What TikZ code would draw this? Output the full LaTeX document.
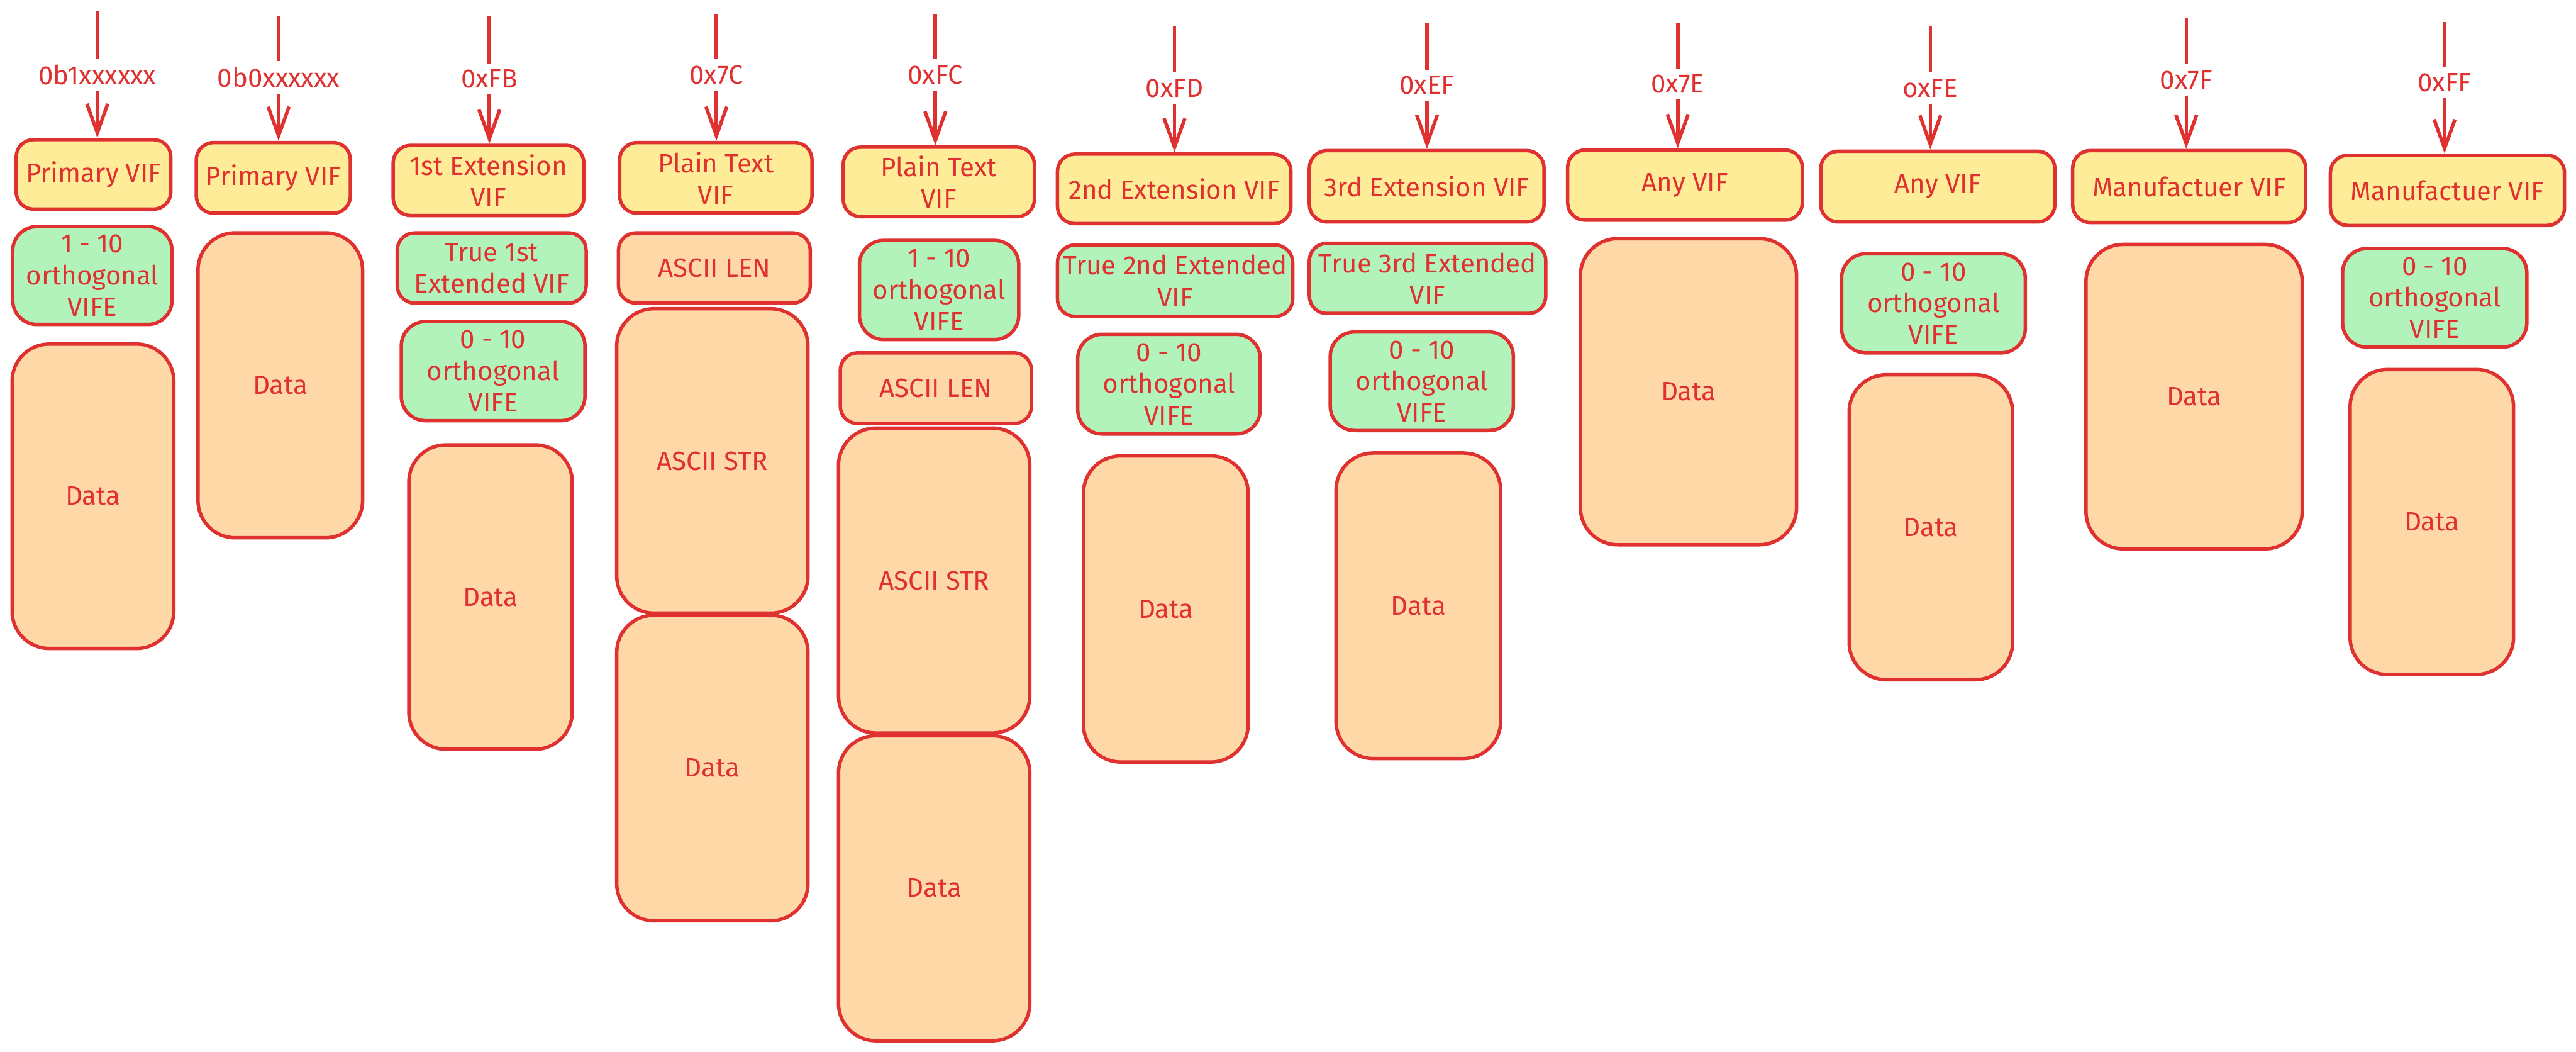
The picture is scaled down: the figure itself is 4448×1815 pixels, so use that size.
\documentclass[tikz,border=0pt]{standalone}
\usepackage{fontspec}
\setmainfont{Fira Sans}
\usetikzlibrary{arrows.meta}
\definecolor{exred}{HTML}{E03131}
\definecolor{exyellow}{HTML}{FFEC99}
\definecolor{exgreen}{HTML}{B2F2BB}
\definecolor{exorange}{HTML}{FFD8A8}

\begin{document}
\begin{tikzpicture}[x=0.01cm,y=-0.01cm]
   \tikzstyle{box}=[draw=exred,line width=1.7pt,text=exred,align=center,inner sep=0pt,font=\fontsize{13}{15.5}\selectfont]
   \tikzstyle{vif}=[box,fill=exyellow,rounded corners=3mm]
   \tikzstyle{ext}=[box,fill=exgreen,rounded corners=3mm]
   \tikzstyle{orth}=[box,fill=exgreen,rounded corners=4.2mm]
   \tikzstyle{len}=[box,fill=exorange,rounded corners=3mm]
   \tikzstyle{dat}=[box,fill=exorange,rounded corners=6.4mm]
   \tikzstyle{lbl}=[text=exred,inner sep=1mm,font=\fontsize{13}{15.5}\selectfont]
   \tikzstyle{ln}=[exred,line width=1.7pt]
   \tikzstyle{ar}=[ln,-{Straight Barb[length=5mm,width=3.6mm]}]

   \useasboundingbox (0,0) rectangle (4448,1815);

   % 0b1xxxxxx
   \coordinate (t1) at (168,20);
   \node (l1) [lbl] at (168,129) {0b1xxxxxx};
   \node (vif1) [vif,minimum width=2.67cm,minimum height=1.2cm] at (161.5,301) {Primary VIF};
   \node (orth1) [orth,minimum width=2.75cm,minimum height=1.69cm] at (159.5,475.5) {1 - 10\\orthogonal\\VIFE};
   \node (dat1) [dat,minimum width=2.79cm,minimum height=5.25cm] at (160.5,856.5) {Data};

   % 0b0xxxxxx
   \coordinate (t2) at (481,28);
   \node (l2) [lbl] at (481,134) {0b0xxxxxx};
   \node (vif2) [vif,minimum width=2.66cm,minimum height=1.22cm] at (472,307) {Primary VIF};
   \node (dat2) [dat,minimum width=2.84cm,minimum height=5.26cm] at (484,665) {Data};

   % 0xFB
   \coordinate (t3) at (845,28);
   \node (l3) [lbl] at (845,136) {0xFB};
   \node (vif3) [vif,minimum width=3.29cm,minimum height=1.21cm] at (843.5,311.5) {1st Extension\\VIF};
   \node (ext3) [ext,minimum width=3.26cm,minimum height=1.21cm] at (849,462.5) {True 1st\\Extended VIF};
   \node (orth3) [orth,minimum width=3.17cm,minimum height=1.71cm] at (851.5,640.5) {0 - 10\\orthogonal\\VIFE};
   \node (dat3) [dat,minimum width=2.82cm,minimum height=5.25cm] at (847,1030.5) {Data};

   % 0x7C
   \coordinate (t4) at (1237,25);
   \node (l4) [lbl] at (1237,129) {0x7C};
   \node (vif4) [vif,minimum width=3.32cm,minimum height=1.22cm] at (1236,307) {Plain Text\\VIF};
   \node (len4) [len,minimum width=3.31cm,minimum height=1.21cm] at (1233.5,462.5) {ASCII LEN};
   \node (str4) [dat,minimum width=3.3cm,minimum height=5.25cm] at (1230,795.5) {ASCII STR};
   \node (dat4) [dat,minimum width=3.3cm,minimum height=5.27cm] at (1230,1325.5) {Data};

   % 0xFC
   \coordinate (t5) at (1615,25);
   \node (l5) [lbl] at (1615,129) {0xFC};
   \node (vif5) [vif,minimum width=3.3cm,minimum height=1.2cm] at (1621,314) {Plain Text\\VIF};
   \node (orth5) [orth,minimum width=2.75cm,minimum height=1.71cm] at (1621.5,500.5) {1 - 10\\orthogonal\\VIFE};
   \node (len5) [len,minimum width=3.3cm,minimum height=1.22cm] at (1616,670) {ASCII LEN};
   \node (str5) [dat,minimum width=3.3cm,minimum height=5.26cm] at (1613,1002) {ASCII STR};
   \node (dat5) [dat,minimum width=3.3cm,minimum height=5.26cm] at (1613,1533) {Data};

   % 0xFD
   \coordinate (t6) at (2028,45);
   \node (l6) [lbl] at (2028,152) {0xFD};
   \node (vif6) [vif,minimum width=4.03cm,minimum height=1.2cm] at (2027.5,326) {2nd Extension VIF};
   \node (ext6) [ext,minimum width=4.06cm,minimum height=1.23cm] at (2029,484.5) {True 2nd Extended\\VIF};
   \node (orth6) [orth,minimum width=3.15cm,minimum height=1.72cm] at (2018.5,663) {0 - 10\\orthogonal\\VIFE};
   \node (dat6) [dat,minimum width=2.84cm,minimum height=5.28cm] at (2013,1051) {Data};

   % 0xEF
   \coordinate (t7) at (2464,39);
   \node (l7) [lbl] at (2464,147) {0xEF};
   \node (vif7) [vif,minimum width=4.05cm,minimum height=1.23cm] at (2463.5,321.5) {3rd Extension VIF};
   \node (ext7) [ext,minimum width=4.08cm,minimum height=1.21cm] at (2465,480.5) {True 3rd Extended\\VIF};
   \node (orth7) [orth,minimum width=3.16cm,minimum height=1.7cm] at (2455,658) {0 - 10\\orthogonal\\VIFE};
   \node (dat7) [dat,minimum width=2.84cm,minimum height=5.27cm] at (2449,1045.5) {Data};

   % 0x7E
   \coordinate (t8) at (2897,39);
   \node (l8) [lbl] at (2897,145) {0x7E};
   \node (vif8) [vif,minimum width=4.05cm,minimum height=1.21cm] at (2909.5,319.5) {Any VIF};
   \node (dat8) [dat,minimum width=3.73cm,minimum height=5.28cm] at (2915.5,676) {Data};

   % oxFE
   \coordinate (t9) at (3333,44);
   \node (l9) [lbl] at (3333,152) {oxFE};
   \node (vif9) [vif,minimum width=4.04cm,minimum height=1.22cm] at (3346,322) {Any VIF};
   \node (orth9) [orth,minimum width=3.17cm,minimum height=1.71cm] at (3338.5,523.5) {0 - 10\\orthogonal\\VIFE};
   \node (dat9) [dat,minimum width=2.82cm,minimum height=5.26cm] at (3334,910) {Data};

   % 0x7F
   \coordinate (t10) at (3775,31);
   \node (l10) [lbl] at (3775,138) {0x7F};
   \node (vif10) [vif,minimum width=4.02cm,minimum height=1.24cm] at (3780,322) {Manufactuer VIF};
   \node (dat10) [dat,minimum width=3.73cm,minimum height=5.25cm] at (3788.5,684.5) {Data};

   % 0xFF
   \coordinate (t11) at (4221,38);
   \node (l11) [lbl] at (4221,143) {0xFF};
   \node (vif11) [vif,minimum width=4.04cm,minimum height=1.21cm] at (4226,328.5) {Manufactuer VIF};
   \node (orth11) [orth,minimum width=3.18cm,minimum height=1.7cm] at (4204,514) {0 - 10\\orthogonal\\VIFE};
   \node (dat11) [dat,minimum width=2.82cm,minimum height=5.26cm] at (4199,901) {Data};

   % arrows into the first VIF of each column
   \foreach \i in {1,...,11} {
      \draw[ln] (t\i) -- (l\i);
      \draw[ar] (l\i) -- (l\i |- vif\i.north);
   }
\end{tikzpicture}
\end{document}
